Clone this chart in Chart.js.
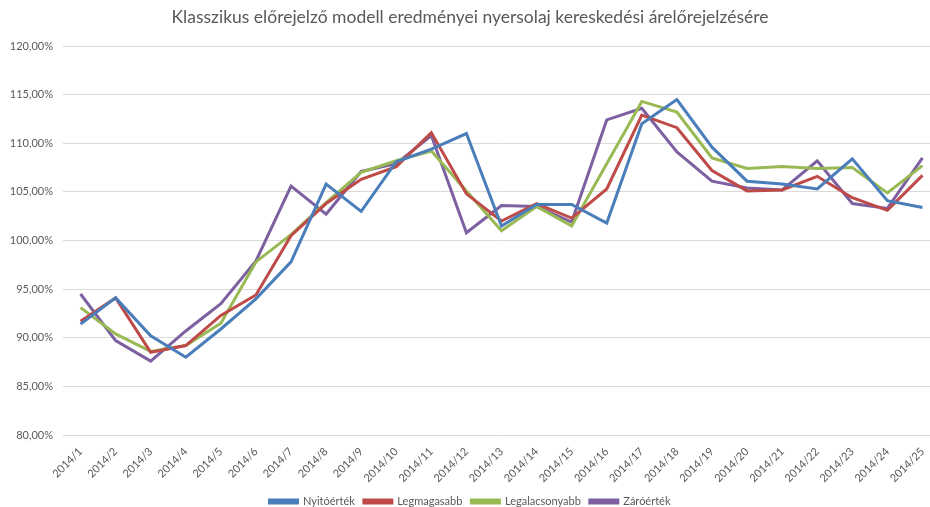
<!DOCTYPE html>
<html lang="hu">
<head>
  <meta charset="UTF-8" />
  <title>Nyersolaj árelőrejelzés</title>
  <script src="https://cdn.jsdelivr.net/npm/chart.js@4.4.1/dist/chart.umd.min.js"></script>
  <style>
    html, body {
      margin: 0;
      padding: 0;
      background: #fff;
      overflow: hidden;
    }
    .chart-box {
      position: relative;
      width: 952px;
      height: 507px;
    }
  </style>
</head>
<body>
  <div class="chart-box">
    <canvas id="priceChart"></canvas>
  </div>

  <script>
    // Heti időszakok
    const periods = [
      '2014/1','2014/2','2014/3','2014/4','2014/5','2014/6','2014/7','2014/8','2014/9',
      '2014/10','2014/11','2014/12','2014/13','2014/14','2014/15','2014/16','2014/17',
      '2014/18','2014/19','2014/20','2014/21','2014/22','2014/23','2014/24','2014/25'
    ];

    // Előrejelzett értékek, százalékban
    const openValues = [
      91.4, 94.1, 90.2, 88.0, 90.9, 94.0, 97.8, 105.8, 103.0, 108.1, 109.4, 111.0, 101.5,
      103.7, 103.7, 101.8, 112.0, 114.5, 109.6, 106.1, 105.8, 105.3, 108.4, 104.1, 103.4
    ];
    const highValues = [
      91.7, 94.1, 88.5, 89.2, 92.3, 94.4, 100.5, 103.8, 106.3, 107.6, 111.1, 104.8, 102.0,
      103.8, 102.3, 105.3, 112.9, 111.6, 107.2, 105.1, 105.2, 106.6, 104.4, 103.1, 106.7
    ];
    const lowValues = [
      93.1, 90.4, 88.6, 89.2, 91.5, 97.8, 100.6, 103.9, 107.0, 108.2, 109.2, 105.1, 101.0,
      103.5, 101.5, 107.9, 114.3, 113.2, 108.5, 107.4, 107.6, 107.4, 107.5, 104.9, 107.7
    ];
    const closeValues = [
      94.5, 89.7, 87.6, 90.7, 93.5, 97.9, 105.6, 102.7, 107.1, 107.9, 110.8, 100.8, 103.6,
      103.5, 101.9, 112.4, 113.6, 109.1, 106.1, 105.4, 105.2, 108.2, 103.8, 103.3, 108.5
    ];

    const seriesNames = ['Nyitóérték', 'Legmagasabb', 'Legalacsonyabb', 'Záróérték'];
    const seriesColors = ['#4A7EBB', '#BE4B48', '#98B954', '#7D60A0'];

    // Függőleges tengely: 80% - 120%, 5%-os lépés
    const yTicks = [80, 85, 90, 95, 100, 105, 110, 115, 120];

    const textColor = '#595959';
    const fontFamily = "Lato, 'Open Sans', sans-serif";

    const makeSet = (i, data) => ({
      label: seriesNames[i],
      data: data,
      borderColor: seriesColors[i],
      backgroundColor: seriesColors[i],
      borderWidth: 3,
      pointRadius: 0,
      pointHoverRadius: 0,
      tension: 0,
      fill: false
    });

    const ctx = document.getElementById('priceChart').getContext('2d');
    new Chart(ctx, {
      type: 'line',
      data: {
        labels: periods,
        datasets: [
          makeSet(0, openValues),
          makeSet(1, highValues),
          makeSet(2, lowValues),
          makeSet(3, closeValues)
        ]
      },
      options: {
        responsive: true,
        maintainAspectRatio: false,
        animation: false,
        // negatív alsó margó: a jelmagyarázat a vászon alsó szélére kerül
        layout: { padding: { left: 0, right: 12, top: 0, bottom: -10 } },
        plugins: {
          title: {
            display: true,
            text: 'Klasszikus előrejelző modell eredményei nyersolaj kereskedési árelőrejelzésére',
            color: textColor,
            font: { family: fontFamily, size: 17.5, weight: 'normal' },
            padding: { top: 7, bottom: 18 }
          },
          legend: {
            position: 'bottom',
            labels: {
              color: textColor,
              font: { family: fontFamily, size: 11 },
              boxWidth: 28,
              boxHeight: 3,
              padding: 9
            }
          },
          tooltip: { enabled: false }
        },
        scales: {
          x: {
            offset: true,
            grid: { display: false },
            border: { display: false },
            afterFit: (scale) => { scale.height = 52; },
            ticks: {
              color: textColor,
              font: { family: fontFamily, size: 11 },
              minRotation: 45,
              maxRotation: 45,
              autoSkip: false,
              padding: 2
            }
          },
          y: {
            min: yTicks[0],
            max: yTicks[yTicks.length - 1],
            afterBuildTicks: (scale) => {
              scale.ticks = yTicks.map(v => ({ value: v }));
            },
            afterFit: (scale) => { scale.width = 63; },
            grid: { color: '#D9D9D9', lineWidth: 1, drawTicks: false },
            border: { display: false },
            ticks: {
              color: textColor,
              font: { family: fontFamily, size: 11 },
              padding: 10,
              callback: (v) => v.toFixed(2).replace('.', ',') + '%'
            }
          }
        }
      }
    });
  </script>
</body>
</html>
